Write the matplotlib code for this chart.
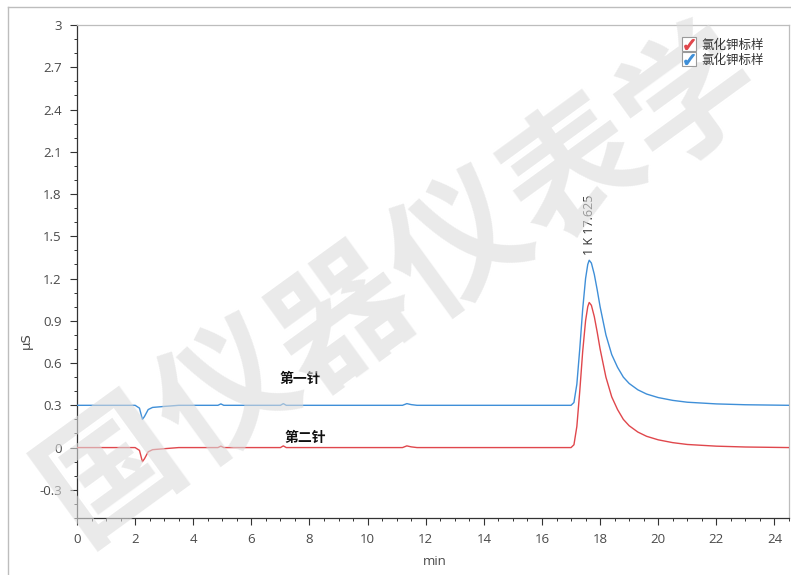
import matplotlib
matplotlib.use("Agg")
import matplotlib.pyplot as plt
from matplotlib.lines import Line2D
from matplotlib.legend_handler import HandlerTuple

plt.rcParams['font.family'] = ['Noto Sans CJK SC', 'DejaVu Sans']

# Retention time (min)
time_min = [0.0, 2.0, 2.15, 2.25, 2.32, 2.45, 2.6, 3.0, 3.5, 4.85, 4.95, 5.05,
            7.0, 7.1, 7.2, 11.2, 11.35, 11.5, 11.7, 17.0, 17.1, 17.2, 17.3,
            17.4, 17.5, 17.575, 17.625, 17.7, 17.8, 17.9, 18.0, 18.2, 18.4,
            18.6, 18.8, 19.0, 19.3, 19.6, 20.0, 20.5, 21.0, 22.0, 23.0, 24.5]

# Conductivity (uS), first injection (displayed with +0.3 offset)
first_shot = [0.30, 0.30, 0.28, 0.20, 0.22, 0.27, 0.285, 0.292, 0.30, 0.30, 0.31, 0.30,
              0.30, 0.312, 0.30, 0.30, 0.312, 0.305, 0.30, 0.30, 0.32, 0.45, 0.70,
              0.98, 1.20, 1.30, 1.33, 1.31, 1.23, 1.12, 1.00, 0.80, 0.66,
              0.57, 0.50, 0.455, 0.41, 0.38, 0.355, 0.335, 0.322, 0.31, 0.304, 0.30]

# Conductivity (uS), second injection
second_shot = [0.0, 0.0, -0.02, -0.10, -0.08, -0.03, -0.015, -0.008, 0.0, 0.0, 0.01, 0.0,
               0.0, 0.012, 0.0, 0.0, 0.012, 0.005, 0.0, 0.0, 0.02, 0.15, 0.40,
               0.68, 0.90, 1.00, 1.03, 1.01, 0.93, 0.82, 0.70, 0.50, 0.36,
               0.27, 0.20, 0.155, 0.11, 0.08, 0.055, 0.035, 0.022, 0.01, 0.004, 0.0]

peak_time = 17.625
peak_label = "1 K 17.625"
legend_labels = ["氯化钾标样", "氯化钾标样"]
x_ticks = [0, 2, 4, 6, 8, 10, 12, 14, 16, 18, 20, 22, 24]
y_ticks = [-0.3, 0, 0.3, 0.6, 0.9, 1.2, 1.5, 1.8, 2.1, 2.4, 2.7, 3]
y_tick_labels = ['-0.3', '0', '0.3', '0.6', '0.9', '1.2', '1.5', '1.8', '2.1', '2.4', '2.7', '3']

red = '#e0474c'
blue = '#3f8fd8'
tick_font = ['Open Sans', 'DejaVu Sans']

fig = plt.figure(figsize=(7.91, 5.75), dpi=100)
ax = fig.add_axes([77 / 791, 1 - 518 / 575, (789 - 77) / 791, (518 - 25) / 575])

ax.plot(time_min, second_shot, color=red, lw=1.0, zorder=3)
ax.plot(time_min, first_shot, color=blue, lw=1.0, zorder=3)

ax.set_xlim(0, 24.5)
ax.set_ylim(-0.5, 3.0)
ax.set_xticks(x_ticks)
ax.set_xticklabels([str(v) for v in x_ticks], family=tick_font)
ax.set_yticks(y_ticks)
ax.set_yticklabels(y_tick_labels, family=tick_font)
ax.set_xticks([v * 0.5 for v in range(0, 50)], minor=True)
ax.set_yticks([v / 10 for v in range(-5, 31)], minor=True)
ax.tick_params(which='major', direction='out', length=5, width=0.8, color='#333333',
               labelsize=9.5, labelcolor='#4a4a4a', pad=6)
ax.tick_params(which='minor', direction='out', length=2.5, width=0.7, color='#333333')
for side in ('left', 'bottom'):
    ax.spines[side].set_color('#333333')
    ax.spines[side].set_linewidth(0.9)
for side in ('top', 'right'):
    ax.spines[side].set_color('#bdbdbd')
    ax.spines[side].set_linewidth(0.9)

ax.set_xlabel('min', fontsize=9.5, color='#4a4a4a', family=tick_font)
ax.xaxis.set_label_coords(0.502, -0.075)
ax.set_ylabel('μS', fontsize=9.5, color='#4a4a4a', family=['DejaVu Sans'])
ax.yaxis.set_label_coords(-0.062, 0.36)

# peak annotation above the first-injection peak
peak_height = first_shot[time_min.index(peak_time)]
ax.text(peak_time, peak_height + 0.04, peak_label, rotation=90, ha='center', va='bottom',
        fontsize=9, color='#333333', family=tick_font)

ax.text(7.67, 0.49, '第一针', ha='center', va='center', fontsize=10, fontweight='bold', color='#111111')
ax.text(7.86, 0.07, '第二针', ha='center', va='center', fontsize=10, fontweight='bold', color='#111111')

# checkbox-style legend
def box():
    return Line2D([], [], marker='s', markersize=10, markerfacecolor='white',
                  markeredgecolor='#9a9a9a', markeredgewidth=0.8, linestyle='none')

def check(c):
    return Line2D([], [], marker=r'$\checkmark$', markersize=7, color=c, linestyle='none')

handles = [(box(), check(red)), (box(), check(blue))]
leg = ax.legend(handles, legend_labels, handler_map={tuple: HandlerTuple(ndivide=1)},
                loc='upper right', bbox_to_anchor=(0.977, 0.99), frameon=False, fontsize=9,
                handlelength=1.0, handletextpad=0.5, labelspacing=0.15, borderaxespad=0.3)
leg.set_zorder(20)
for t in leg.get_texts():
    t.set_color('#333333')

# outer frame
fig.add_artist(Line2D([8 / 791, 8 / 791], [0, 1 - 7 / 575], color='#bdbdbd', lw=1.0))
fig.add_artist(Line2D([8 / 791, 1], [1 - 7 / 575, 1 - 7 / 575], color='#bdbdbd', lw=1.0))

# diagonal watermark, one character at a time (above the traces, below the legend)
mark_chars = ['国', '仪', '器', '仪', '表', '学']
mark_px = [(112, 470), (228, 396), (344, 322), (460, 248), (576, 174), (692, 100)]
for ch, (px, py) in zip(mark_chars, mark_px):
    ax.text(px / 791, 1 - py / 575, ch, transform=fig.transFigure, rotation=36,
            ha='center', va='center', fontsize=98, fontweight='bold', color='#dcdcdc',
            alpha=0.6, zorder=10, rotation_mode='anchor', clip_on=False)

fig.savefig('out.png', dpi=100)
